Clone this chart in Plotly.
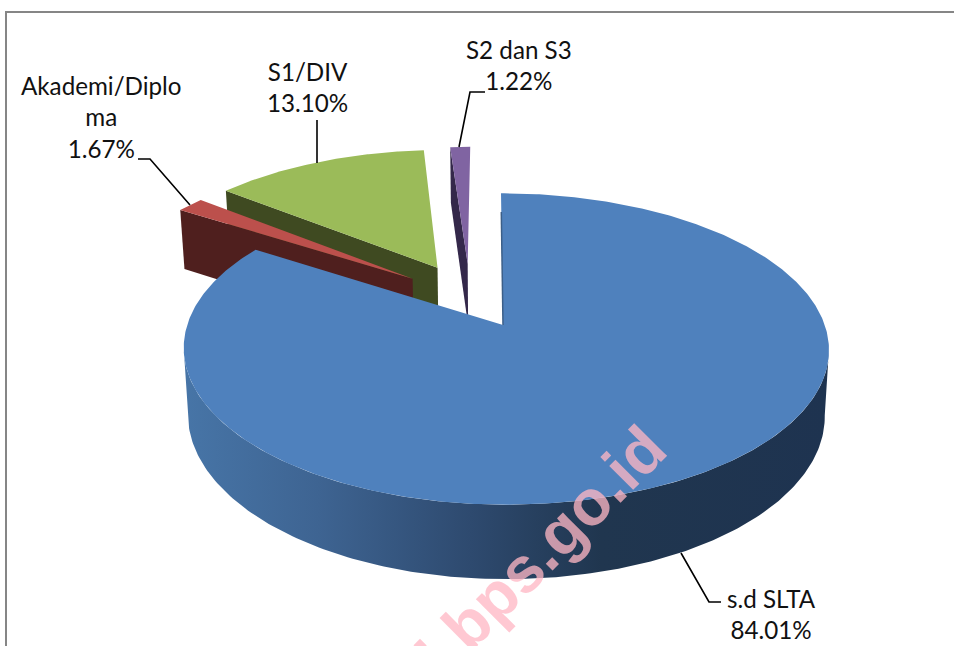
import numpy as np
import plotly.graph_objects as go

# ---- data ----
categories = ["s.d SLTA", "Akademi/Diploma", "S1/DIV", "S2 dan S3"]
values = [84.01, 1.67, 13.10, 1.22]
value_labels = ["84.01%", "1.67%", "13.10%", "1.22%"]
top_colors = ["#4f81bd", "#bc504c", "#9bbb59", "#8064a2"]
face_colors = ["#2c4a6e", "#4f1f1e", "#3f4a21", "#34284a"]
explode_x = [0.0, -0.295, -0.215, -0.115]
explode_y = [0.0, 0.32, 0.40, 0.43]

# ---- view of the tilted pie ----
CX, CY = 503.0, 325.0
FX_L, FX_R, FY = 319.0, 325.0, 152.0
P = 0.154
SHEAR = -2.3
DEPTH = 65.0
BOTTOM_SCALE = 0.987
MAIN_WIDTH = 0.99


def project(X, Y, bottom=False):
    X = np.asarray(X, float)
    Y = np.asarray(Y, float)
    w = 1 + P * Y
    fx = np.where(X >= 0, FX_R, FX_L)
    x = fx * X / w + SHEAR * Y / w
    y = -FY * Y / w
    if bottom:
        x = x * BOTTOM_SCALE
        y = y * BOTTOM_SCALE + DEPTH / w
    return CX + x, CY + y


def rim(a0, a1, n=180):
    a = np.radians(np.linspace(a0, a1, n))
    return np.sin(a), np.cos(a)


def poly(xs, ys, color=None, **kw):
    args = dict(x=xs, y=ys, mode="lines", fill="toself", line=dict(width=0),
                hoverinfo="skip", showlegend=False)
    if color:
        args["fillcolor"] = color
    args.update(kw)
    return go.Scatter(**args)


angles = np.cumsum([0] + values) / sum(values) * 360.0
spans = list(zip(angles[:-1], angles[1:]))

fig = go.Figure()


def exploded_slice(i):
    a0, a1 = spans[i]
    dx, dy = explode_x[i], explode_y[i]
    rx, ry = rim(a0, a1)
    tx, ty = project(np.r_[dx, rx + dx, dx], np.r_[dy, ry + dy, dy])
    # the cut face along the first edge
    ex = np.array([dx, np.sin(np.radians(a0)) + dx])
    ey = np.array([dy, np.cos(np.radians(a0)) + dy])
    ux, uy = project(ex, ey)
    lx, ly = project(ex, ey, bottom=True)
    fig.add_trace(poly(np.r_[ux, lx[::-1], ux[0]], np.r_[uy, ly[::-1], uy[0]], face_colors[i]))
    fig.add_trace(poly(tx, ty, top_colors[i]))


for i in (3, 2, 1):
    exploded_slice(i)

# blue slice: side wall between the two widest points of the rim, then its top
a0, a1 = spans[0]
extreme = np.degrees(np.arccos(-P))
wx, wy = rim(extreme, 360 - extreme)
wx = wx * MAIN_WIDTH
ux, uy = project(wx, wy)
lx, ly = project(wx, wy, bottom=True)
wall_scale = [[0, "#4775a7"], [0.208, "#3e6492"], [0.444, "#2e4a6f"], [0.647, "#20364f"], [1, "#1e3350"]]
fig.add_trace(poly(np.r_[ux, lx[::-1], ux[0]], np.r_[uy, ly[::-1], uy[0]],
                   fillgradient=dict(type="horizontal", colorscale=wall_scale)))
rx, ry = rim(a0, a1, 500)
tx, ty = project(np.r_[0, rx * MAIN_WIDTH, 0], np.r_[0, ry, 0])
fig.add_trace(poly(tx, ty, top_colors[0]))
# thin sliver of the cut face at the start of the blue slice
sx, sy = project(np.array([0.0, 0.0]), np.array([0.0, 0.84]))
fig.add_trace(go.Scatter(x=sx, y=sy, mode="lines", line=dict(color="#3c5f88", width=1.5),
                         hoverinfo="skip", showlegend=False))

# leader lines
leaders = [
    ([721, 709, 681], [602, 602, 553]),
    ([138, 150, 190], [159, 159, 205]),
    ([317, 317], [120, 163]),
    ([485, 470, 459], [92, 92, 147]),
]
for lx_, ly_ in leaders:
    fig.add_trace(go.Scatter(x=lx_, y=ly_, mode="lines", line=dict(color="#000000", width=1.6),
                             hoverinfo="skip", showlegend=False))

FONT = "Lato"
FS = 24.2
labels = [
    (771, 614, f"{categories[0]}<br>{value_labels[0]}"),
    (101, 117, "Akademi/Diplo<br>ma<br>" + value_labels[1]),
    (307, 87, f"{categories[2]}<br>{value_labels[2]}"),
    (519, 65, f"{categories[3]}<br>{value_labels[3]}"),
]
for x, y, t in labels:
    fig.add_annotation(x=x, y=y, text=t, showarrow=False, align="center",
                       font=dict(family=FONT, size=FS, color="#111111"))

# watermark
WM = dict(family="Liberation Sans", size=64, color="rgba(255,183,196,0.76)", weight="bold")
fig.add_annotation(x=554, y=538, text="bps.go.id", textangle=-45, showarrow=False, font=WM)
fig.add_annotation(x=408, y=633, text=".", textangle=-45, showarrow=False, font=WM)

fig.update_layout(
    width=954, height=646, margin=dict(l=0, r=0, t=0, b=0),
    paper_bgcolor="white", plot_bgcolor="white", showlegend=False,
    xaxis=dict(range=[0, 954], visible=False, fixedrange=True),
    yaxis=dict(range=[646, 0], visible=False, fixedrange=True),
    shapes=[dict(type="path", path="M 6 646 L 6 12 L 954 12", line=dict(color="#868686", width=2),
                 xref="x", yref="y", layer="below")],
)
fig.write_html("out.html", config=dict(displayModeBar=False),
               post_script="document.body.style.margin='0';document.body.style.overflow='hidden';")
